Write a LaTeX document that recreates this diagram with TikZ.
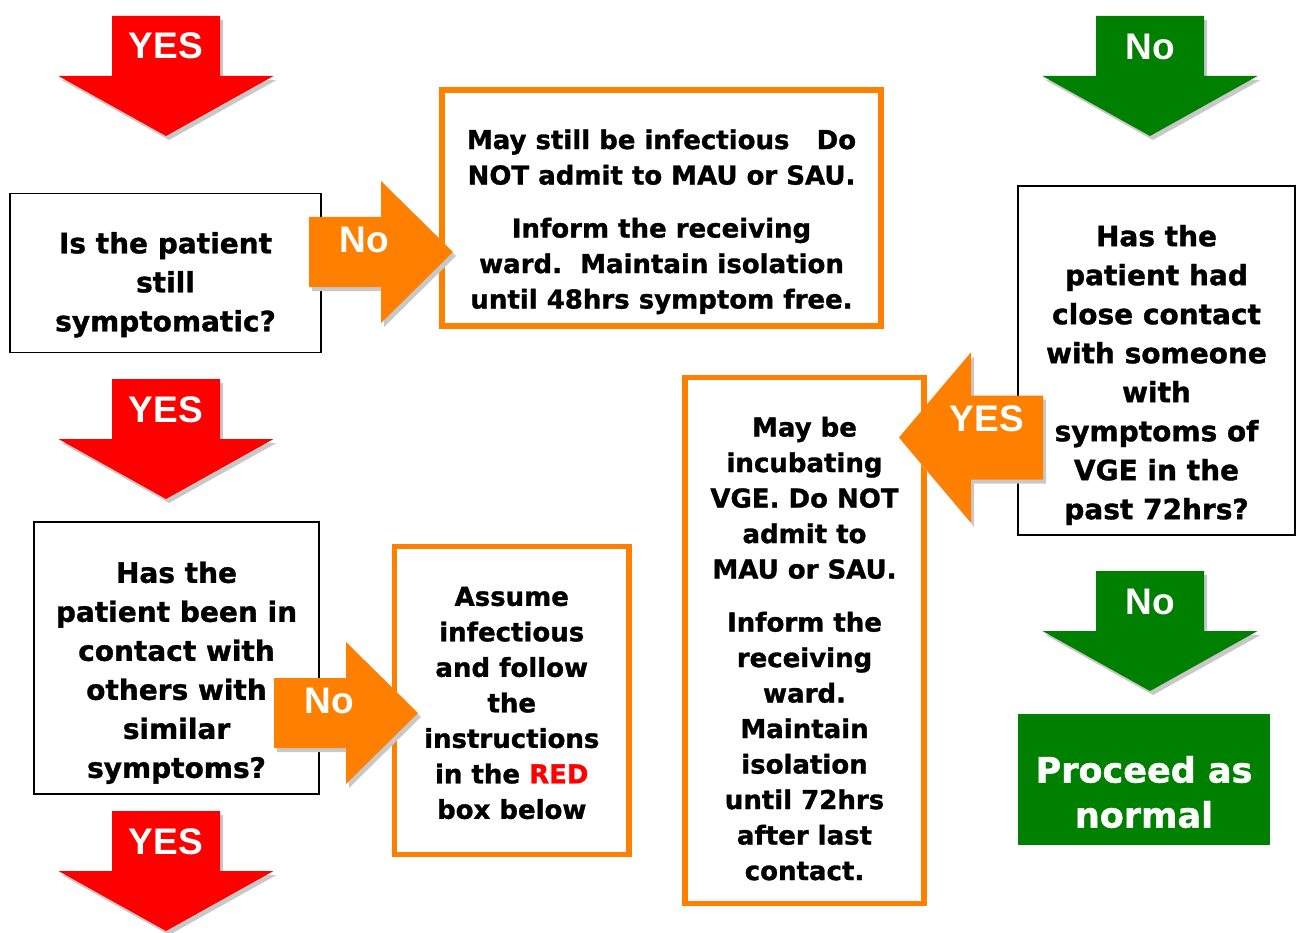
\documentclass[tikz,border=0pt]{standalone}
\usepackage{fontspec}
\setmainfont{DejaVu Sans}[BoldFeatures={FakeBold=1.2}]
\newfontfamily\arrfont{Liberation Sans}
\definecolor{myorange}{RGB}{255,128,0}
\definecolor{mygreen}{RGB}{0,128,0}
\definecolor{shadowc}{RGB}{200,200,200}
\begin{document}
\begin{tikzpicture}[x=1pt,y=-1pt,
  qbox/.style={draw=black, line width=1.8pt, fill=white, rectangle, inner sep=0pt},
  obox/.style={draw=myorange, line width=5.5pt, fill=white, rectangle, inner sep=0pt},
  gbox/.style={fill=mygreen, rectangle, inner sep=0pt},
  qtext/.style={font=\bfseries\fontsize{28}{39}\selectfont, align=center, inner sep=0pt},
  otext/.style={font=\bfseries\fontsize{26}{35.5}\selectfont, align=center, inner sep=0pt},
  gtext/.style={font=\bfseries\fontsize{35}{45}\selectfont, align=center, text=white, inner sep=0pt},
  arrlabel/.style={font=\arrfont\bfseries\fontsize{37}{40}\selectfont, text=white, inner sep=0pt},
  pics/darrow/.style={code={\fill[#1] (-54,0) -- (54,0) -- (54,60) -- (107.5,60) -- (0,120) -- (-107.5,60) -- (-54,60) -- cycle;}},
  pics/rarrow/.style={code={\fill[#1] (0,-35) -- (72,-35) -- (72,-71) -- (144,0) -- (72,71) -- (72,35) -- (0,35) -- cycle;}},
]
\frenchspacing
\useasboundingbox (0,0) rectangle (1303,933);

% boxes
\node[qbox, minimum width=311pt, minimum height=159pt] (b1) at (165.5,273) {};
\node[qbox, minimum width=285pt, minimum height=272pt] (b2) at (176.5,658) {};
\node[qbox, minimum width=277pt, minimum height=349pt] (b3) at (1156.5,360.5) {};
\node[obox, minimum width=439pt, minimum height=236pt] (o1) at (661.5,208) {};
\node[obox, minimum width=234.5pt, minimum height=308pt] (o2) at (511.75,700.5) {};
\node[obox, minimum width=239pt, minimum height=526pt] (o3) at (804.5,640.5) {};
\node[gbox, minimum width=252pt, minimum height=131pt] (g1) at (1144,779.5) {};

% texts
\node[qtext] (t1) at (165.5,284.7) {Is the patient\\still\\symptomatic?};
\node[qtext] (t2) at (176.5,672.7) {Has the\\patient been in\\contact with\\others with\\similar\\symptoms?};
\node[qtext] (t3) at (1156.5,375) {Has the\\patient had\\close contact\\with someone\\with\\symptoms of\\VGE in the\\past 72hrs?};
\node[otext] (to1) at (661.5,221.7) {May still be infectious~~~Do\\NOT admit to MAU or SAU.\\[17.5pt]Inform the receiving\\ward.~~Maintain isolation\\until 48hrs symptom free.};
\node[otext] (to2) at (511.75,703) {Assume\\infectious\\and follow\\the\\instructions\\in the \textcolor{red}{RED}\\box below};
\node[otext] (to3) at (804.5,648.6) {May be\\incubating\\VGE. Do NOT\\admit to\\MAU or SAU.\\[17.5pt]Inform the\\receiving\\ward.\\Maintain\\isolation\\until 72hrs\\after last\\contact.};
\node[gtext] (tg) at (1144,792) {Proceed as\\normal};

% down arrows
\foreach \x/\y/\c in {166/16/red, 166/379/red, 166/811/red, 1150/16/mygreen, 1150/571/mygreen}{
  \pic at (\x+3,\y+4) {darrow=shadowc};
  \pic at (\x,\y) {darrow=\c};
}
% right arrows
\pic at (312,256) {rarrow=shadowc};
\pic at (309,252) {rarrow=myorange};
\pic at (277,717) {rarrow=shadowc};
\pic at (274,713) {rarrow=myorange};
% left arrow
\begin{scope}[shift={(1046,441.5)}]
  \pic[xscale=-1, yscale=1.2] at (0,0) {rarrow=shadowc};
\end{scope}
\begin{scope}[shift={(1043,437.5)}]
  \pic[xscale=-1, yscale=1.2] at (0,0) {rarrow=myorange};
\end{scope}

% labels
\node[arrlabel] (y1) at (166,46) {YES};
\node[arrlabel] (y2) at (166,410) {YES};
\node[arrlabel] (y3) at (166,842) {YES};
\node[arrlabel] (n1) at (1150,47) {No};
\node[arrlabel] (n2) at (1150,602) {No};
\node[arrlabel] (n3) at (364,240) {No};
\node[arrlabel] (n4) at (329,701) {No};
\node[arrlabel] (y4) at (987,419) {YES};
\end{tikzpicture}
\end{document}
